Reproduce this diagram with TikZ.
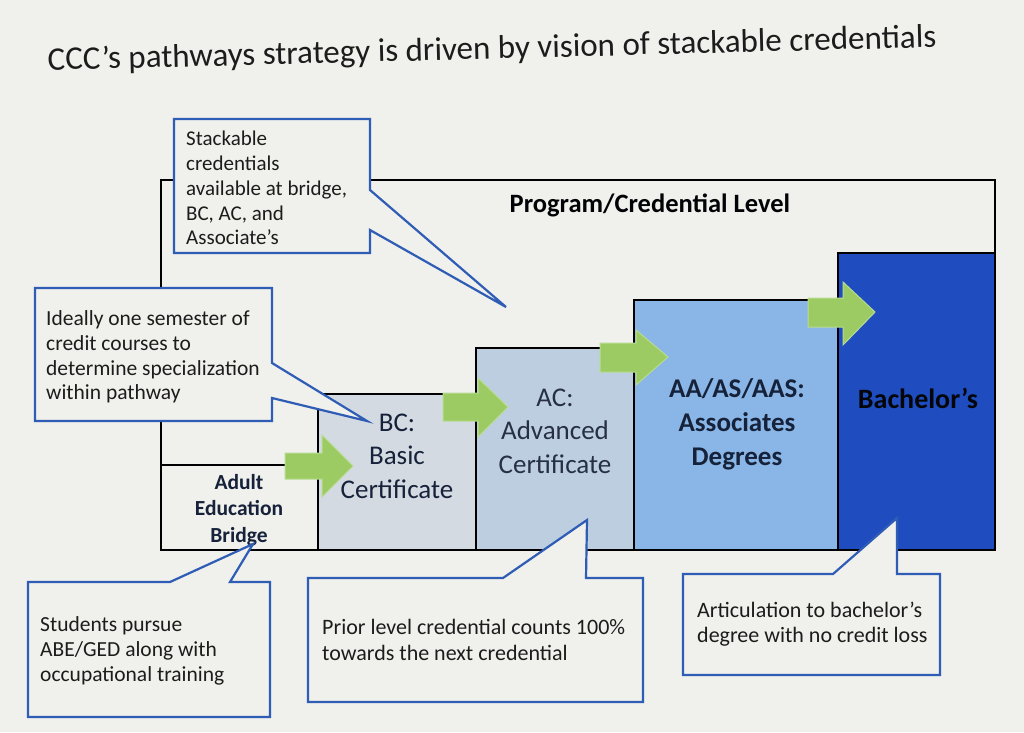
\documentclass[tikz,border=0pt]{standalone}
\usepackage{fontspec}
\setmainfont{Carlito}
\definecolor{bg}{HTML}{F0F0EC}
\definecolor{cblue}{HTML}{2F5DB5}
\definecolor{bcfill}{HTML}{D3DAE1}
\definecolor{acfill}{HTML}{BDCEE0}
\definecolor{aafill}{HTML}{89B6E6}
\definecolor{bafill}{HTML}{1F4DBF}
\definecolor{gfill}{HTML}{9CCB64}
\definecolor{gedge}{HTML}{B8DC90}
\definecolor{ink}{HTML}{1C1C1C}
\definecolor{navy}{HTML}{16213A}
\begin{document}
\begin{tikzpicture}[x=1pt,y=-1pt,
  callout/.style={draw=cblue, line width=2.2pt, fill=bg, line join=miter},
  ctext/.style={align=left, anchor=west, inner sep=0pt, font=\fontsize{21.5}{24.8}\selectfont, text=ink},
  levelbox/.style={draw=black, line width=1.3pt},
  lab/.style={align=center, inner sep=0pt, font=\fontsize{27}{33.5}\selectfont, text=navy},
  blab/.style={align=center, inner sep=0pt, font=\bfseries\fontsize{27}{34}\selectfont, text=navy},
  garrow/.style={fill=gfill, draw=gedge, line width=1pt, line join=miter},
]
\useasboundingbox (0,0) rectangle (1024,732);
\fill[bg] (0,0) rectangle (1024,732);

% title
\node[rotate=1.5, inner sep=0pt, font=\fontsize{33}{38}\selectfont, text=ink] (title) at (492,50)
  {CCC’s pathways strategy is driven by vision of stackable credentials};

% outer level box
\draw[levelbox] (161,180) rectangle (995,550);
\node[inner sep=0pt, font=\bfseries\fontsize{26.5}{30}\selectfont, text=black!90!navy] (level) at (650,205) {Program/Credential Level};

% steps
\draw[levelbox] (161,465) rectangle (318,550);
\draw[levelbox, fill=bcfill] (318,394) rectangle (476,550);
\draw[levelbox, fill=acfill] (476,348) rectangle (634,550);
\draw[levelbox, fill=aafill] (634,300) rectangle (838,550);
\draw[levelbox, fill=bafill] (838,253) rectangle (995,550);

\node[align=center, inner sep=0pt, font=\bfseries\fontsize{21.5}{26.5}\selectfont, text=navy] (bridge) at (239,510) {Adult\\Education\\Bridge};
\node[lab] (bc) at (397,456) {BC:\\Basic\\Certificate};
\node[lab, text=navy!85!gray] (ac) at (555,431) {AC:\\Advanced\\Certificate};
\node[blab] (aa) at (737,424) {AA/AS/AAS:\\Associates\\Degrees};
\node[blab, font=\bfseries\fontsize{28}{34}\selectfont, text=black!85!navy] (ba) at (918,398) {Bachelor’s};

% green arrows
\draw[garrow] (285,453) -- (322,453) -- (322,435) -- (353,466) -- (322,497) -- (322,479) -- (285,479) -- cycle;
\draw[garrow] (443,393) -- (478,393) -- (478,378) -- (508,407) -- (478,437) -- (478,421) -- (443,421) -- cycle;
\draw[garrow] (600,343) -- (636,343) -- (636,330) -- (668,357) -- (636,385) -- (636,372) -- (600,372) -- cycle;
\draw[garrow] (808,298) -- (843,298) -- (843,282) -- (875,312) -- (843,345) -- (843,327) -- (808,327) -- cycle;

% callouts
\draw[callout] (174,119) -- (370,119) -- (370,190) -- (506,307) -- (370,230) -- (370,253) -- (174,253) -- cycle;
\node[ctext, font=\fontsize{21}{24.8}\selectfont] (c1) at (186,188) {Stackable\\credentials\\available at bridge,\\BC, AC, and\\Associate’s};

\draw[callout] (35,288) -- (272,288) -- (272,363) -- (367,421) -- (272,398) -- (272,421) -- (35,421) -- cycle;
\node[ctext] (c2) at (46,357) {Ideally one semester of\\credit courses to\\determine specialization\\within pathway};

\draw[callout] (28,582) -- (170,582) -- (253,544) -- (230,582) -- (270,582) -- (270,717) -- (28,717) -- cycle;
\node[ctext] (c3) at (40,651) {Students pursue\\ABE/GED along with\\occupational training};

\draw[callout] (308,578) -- (503,578) -- (587,520) -- (586,578) -- (643,578) -- (643,702) -- (308,702) -- cycle;
\node[ctext, font=\fontsize{22}{26}\selectfont] (c4) at (322,640) {Prior level credential counts 100\%\\towards the next credential};

\draw[callout] (683,574) -- (833,574) -- (897,518) -- (897,574) -- (940,574) -- (940,675) -- (683,675) -- cycle;
\node[ctext, font=\fontsize{22}{25}\selectfont] (c5) at (697,624) {Articulation to bachelor’s\\degree with no credit loss};
\end{tikzpicture}
\end{document}
